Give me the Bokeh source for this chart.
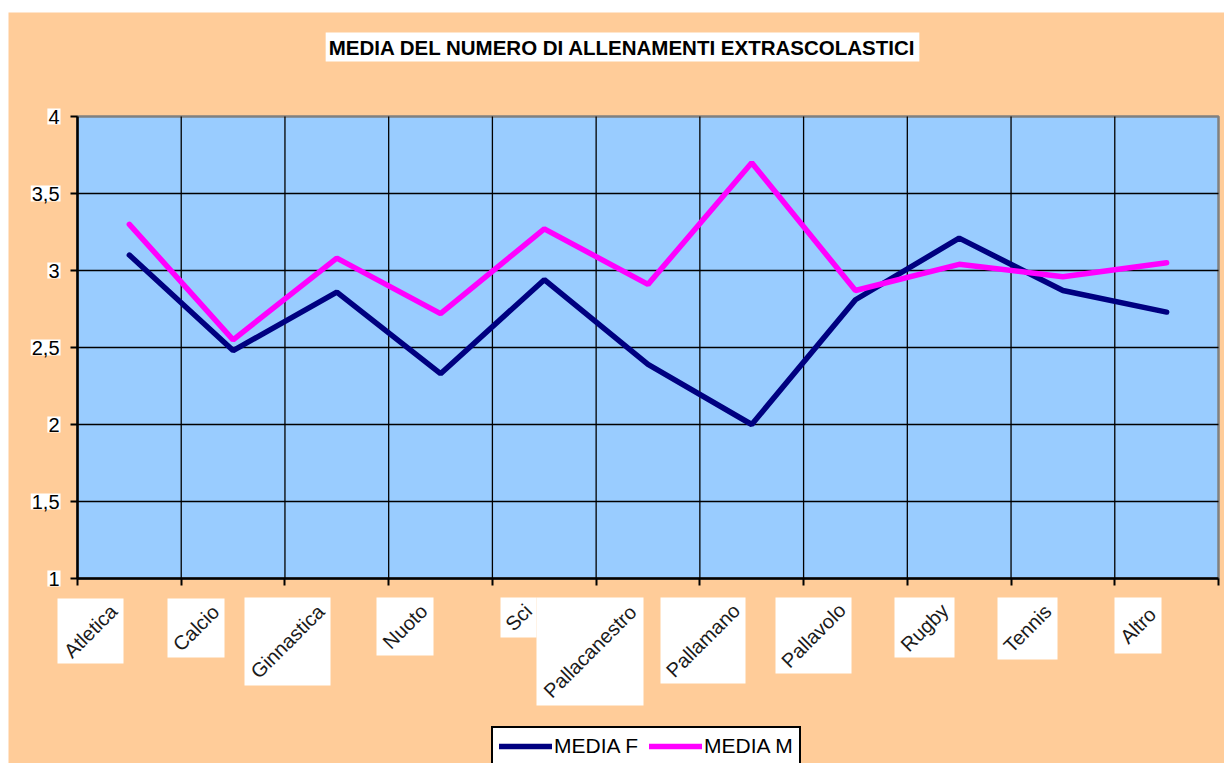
import math
from bokeh.plotting import figure
from bokeh.models import (Range1d, FixedTicker, CustomJSTickFormatter, Label,
                          BoxAnnotation, Legend, LegendItem, Spacer)
from bokeh.layouts import column, row
from bokeh.embed import file_html
from bokeh.resources import INLINE

# ---------------- data ----------------
CATEGORIES = ["Atletica", "Calcio", "Ginnastica", "Nuoto", "Sci", "Pallacanestro",
              "Pallamano", "Pallavolo", "Rugby", "Tennis", "Altro"]
MEDIA_F = [3.10, 2.48, 2.86, 2.33, 2.94, 2.39, 2.00, 2.81, 3.21, 2.87, 2.73]
MEDIA_M = [3.30, 2.55, 3.08, 2.72, 3.27, 2.91, 3.70, 2.87, 3.04, 2.96, 3.05]
Y_TICKS = [1, 1.5, 2, 2.5, 3, 3.5, 4]
Y_TICK_LABELS = ["1", "1,5", "2", "2,5", "3", "3,5", "4"]
SERIES_NAMES = ["MEDIA F", "MEDIA M"]
TITLE = "MEDIA DEL NUMERO DI ALLENAMENTI EXTRASCOLASTICI"

# ---------------- layout (page pixel geometry of the reference) ----------------
PAGE_W, PAGE_H = 1224, 763
FIG_LEFT, FIG_TOP = 8, 12                      # white margin around the orange chart
FIG_W, FIG_H = PAGE_W - FIG_LEFT, PAGE_H - FIG_TOP
AREA_L, AREA_R, AREA_T, AREA_B = 77.0, 1218.0, 116.0, 578.0   # plot area in page px
X0, X1 = 0.0, float(len(CATEGORIES))
Y0, Y1 = float(Y_TICKS[0]), float(Y_TICKS[-1])
XS_PER_PX = (X1 - X0) / (AREA_R - AREA_L)
YS_PER_PX = (Y1 - Y0) / (AREA_B - AREA_T)

def px_to_x(px):
    return X0 + (px - AREA_L) * XS_PER_PX

def px_to_y(py):
    return Y0 + (AREA_B - py) * YS_PER_PX

# white boxes behind the rotated category labels: (left, right, top, bottom), page px
LABEL_BOXES = [(57, 123, 598, 663), (167, 224, 598, 657), (244, 330, 597, 685),
               (376, 433, 597, 655), (500, 536, 597, 637), (536, 643, 597, 705),
               (660, 745, 597, 683), (775, 851, 597, 673), (894, 954, 597, 657),
               (997, 1057, 597, 659), (1114, 1161, 597, 653)]

FONT = "Liberation Sans"
ORANGE = "#FFCC99"
PLOT_BG = "#99CCFF"
COL_F = "#000080"
COL_M = "#FF00FF"

xs = [i + 0.5 for i in range(len(CATEGORIES))]
x_bounds = list(range(len(CATEGORIES) + 1))

p = figure(width=FIG_W, height=FIG_H,
           x_range=Range1d(px_to_x(FIG_LEFT), px_to_x(PAGE_W)),
           y_range=Range1d(px_to_y(PAGE_H), px_to_y(FIG_TOP)),
           output_backend="svg", toolbar_location=None, title=None, min_border=0)
p.background_fill_color = ORANGE
p.border_fill_color = ORANGE
p.outline_line_color = None
p.xgrid.visible = False
p.ygrid.visible = False

# plot area (light blue) with grey frame
p.quad(left=[X0], right=[X1], bottom=[Y0], top=[Y1], fill_color=PLOT_BG,
       line_color="#808080", line_width=2.5, level="image")

# grid lines
inner_x = x_bounds[1:-1]
p.segment(x0=inner_x, y0=[Y0] * len(inner_x), x1=inner_x, y1=[Y1] * len(inner_x),
          line_color="black", line_width=1.3)
inner_y = Y_TICKS[1:-1]
p.segment(x0=[X0] * len(inner_y), y0=inner_y, x1=[X1] * len(inner_y), y1=inner_y,
          line_color="black", line_width=1.3)

# axes at fixed locations
empty_fmt = CustomJSTickFormatter(code="return ''")
p.xaxis.fixed_location = Y0
p.yaxis.fixed_location = X0
p.xaxis.bounds = (X0, X1)
p.yaxis.bounds = (Y0, Y1)
p.xaxis.ticker = FixedTicker(ticks=x_bounds)
p.yaxis.ticker = FixedTicker(ticks=Y_TICKS)
for ax in (p.xaxis, p.yaxis):
    ax.formatter = empty_fmt
    ax.axis_line_color = "black"
    ax.axis_line_width = 2.5
    ax.major_tick_line_color = "black"
    ax.major_tick_line_width = 2
    ax.major_tick_out = 7
    ax.major_tick_in = 0
    ax.minor_tick_line_color = None

rF = p.line(xs, MEDIA_F, line_color=COL_F, line_width=5.5, line_cap="round")
rM = p.line(xs, MEDIA_M, line_color=COL_M, line_width=5.5, line_cap="round")

# title
p.add_layout(Label(x=px_to_x(622), y=px_to_y(46.5), text=TITLE, text_align="center",
                   text_baseline="middle", text_font=FONT, text_font_style="bold",
                   text_font_size="20.5px", text_color="black",
                   background_fill_color="white", background_fill_alpha=1.0, padding=3))

# y tick labels (with white boxes)
for t, lab in zip(Y_TICKS, Y_TICK_LABELS):
    p.add_layout(Label(x=px_to_x(60), y=t, text=lab, text_align="right",
                       text_baseline="middle", text_font=FONT, text_font_size="20px",
                       text_color="black", background_fill_color="white",
                       background_fill_alpha=1.0, padding=1))

# category labels: white boxes + rotated text
for (l, r, t, b) in LABEL_BOXES:
    p.add_layout(BoxAnnotation(left=px_to_x(l), right=px_to_x(r), top=px_to_y(t),
                               bottom=px_to_y(b), fill_color="white", fill_alpha=1.0,
                               line_color=None))
for name, (l, r, t, b) in zip(CATEGORIES, LABEL_BOXES):
    cx, cy = (l + r) / 2.0, (t + b) / 2.0
    p.add_layout(Label(x=px_to_x(cx), y=px_to_y(cy), text=name, angle=math.pi / 4,
                       text_align="center", text_baseline="middle", text_font=FONT,
                       text_font_size="20px", text_color="#1a1a1a"))

legend = Legend(items=[LegendItem(label=SERIES_NAMES[0], renderers=[rF]),
                       LegendItem(label=SERIES_NAMES[1], renderers=[rM])],
                orientation="horizontal", location=(491 - FIG_LEFT, -3),
                border_line_color="black", border_line_width=2, border_line_alpha=1.0,
                background_fill_color="white", background_fill_alpha=1.0,
                label_text_font=FONT, label_text_font_size="21px", label_text_color="black",
                glyph_width=53, glyph_height=18, label_standoff=2, spacing=11,
                padding=6, margin=0)
p.add_layout(legend)

layout = column(Spacer(height=FIG_TOP, width=PAGE_W),
                row(Spacer(width=FIG_LEFT, height=FIG_H), p))
open("out.html", "w").write(file_html(layout, INLINE))
